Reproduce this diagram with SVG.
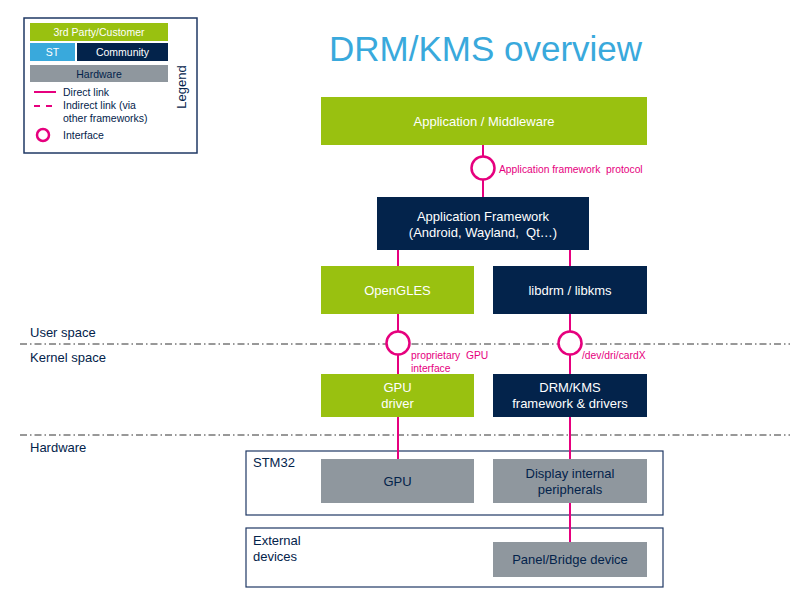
<svg xmlns="http://www.w3.org/2000/svg" width="800" height="600" viewBox="0 0 800 600">
<style>
text{font-family:"Liberation Sans",Arial,sans-serif}
.g{fill:#99C110}
.n{fill:#03234B}
.h{fill:#8F979E}
.b{fill:#39A9DC}
.wt{fill:#fff;font-size:13px;text-anchor:middle;white-space:pre}
.nt{fill:#03234B;font-size:13px;text-anchor:middle}
.lt{fill:#03234B;font-size:13px}
.mt{fill:#E6007E;font-size:10.3px;white-space:pre}
.ll{fill:#fff;font-size:10.5px;text-anchor:middle}
.lh{fill:#03234B;font-size:10.5px;text-anchor:middle}
.lg{fill:#03234B;font-size:10.5px}
.c{stroke:#E6007E;stroke-width:2;fill:none}
.ci{stroke:#E6007E;stroke-width:2.5;fill:#fff}
.dd{stroke:#333;stroke-width:1;stroke-dasharray:7 3 1.5 3;fill:none}
.fr{fill:#fff;stroke:#1F3864;stroke-width:1.2}
</style>
<rect width="800" height="600" fill="#fff"/>

<g id="legend">
<rect x="24" y="18" width="173" height="135" fill="#fff" stroke="#1F3864" stroke-width="1.5"/>
<rect class="g" x="30" y="23" width="138" height="18"/>
<text class="ll" x="99" y="36">3rd Party/Customer</text>
<rect class="b" x="30" y="43" width="45" height="18"/>
<text class="ll" x="52.5" y="56">ST</text>
<rect class="n" x="77" y="43" width="91" height="18"/>
<text class="ll" x="122.5" y="56">Community</text>
<rect class="h" x="30" y="65" width="138" height="17"/>
<text class="lh" x="99" y="77.5">Hardware</text>
<line x1="34" y1="92" x2="56" y2="92" stroke="#E6007E" stroke-width="2"/>
<text class="lg" x="63" y="96">Direct link</text>
<line x1="34" y1="106" x2="56" y2="106" stroke="#E6007E" stroke-width="2" stroke-dasharray="6 6"/>
<text class="lg" x="63" y="109">Indirect link (via</text>
<text class="lg" x="63" y="122">other frameworks)</text>
<circle cx="43" cy="135" r="6" fill="#fff" stroke="#E6007E" stroke-width="2.5"/>
<text class="lg" x="63" y="139">Interface</text>
<text x="186" y="87" transform="rotate(-90 186 87)" style="fill:#03234B;font-size:13px;text-anchor:middle">Legend</text>
</g>

<text x="329" y="61" style="fill:#39A9DC;font-size:35px">DRM/KMS overview</text>

<g id="space-lines">
<line class="dd" x1="20" y1="344" x2="790" y2="344"/>
<line class="dd" x1="20" y1="435" x2="790" y2="435"/>
<text class="lt" x="30" y="337">User space</text>
<text class="lt" x="30" y="362">Kernel space</text>
<text class="lt" x="30" y="452">Hardware</text>
</g>

<g id="stm32">
<rect class="fr" x="246" y="451" width="417" height="64"/>
<text class="lt" x="253" y="467">STM32</text>
</g>
<g id="external">
<rect class="fr" x="246" y="528" width="417" height="59"/>
<text class="lt" x="253" y="545">External</text>
<text class="lt" x="253" y="561">devices</text>
</g>

<g id="connectors">
<line class="c" x1="483" y1="145" x2="483" y2="197"/>
<line class="c" x1="398" y1="250" x2="398" y2="459"/>
<line class="c" x1="570" y1="250" x2="570" y2="542"/>
</g>

<g id="app">
<rect class="g" x="321" y="97" width="326" height="48"/>
<text class="wt" x="484" y="126">Application / Middleware</text>
</g>
<g id="appfw">
<rect class="n" x="377" y="197" width="212" height="53"/>
<text class="wt" x="483" y="221">Application Framework</text>
<text class="wt" x="483" y="237">(Android, Wayland,  Qt…)</text>
</g>
<g id="opengles">
<rect class="g" x="321" y="266" width="153" height="48"/>
<text class="wt" x="397.5" y="294.5">OpenGLES</text>
</g>
<g id="libdrm">
<rect class="n" x="493" y="266" width="154" height="48"/>
<text class="wt" x="570" y="294.5">libdrm / libkms</text>
</g>
<g id="gpudriver">
<rect class="g" x="321" y="374" width="153" height="43"/>
<text class="wt" x="397.5" y="392">GPU</text>
<text class="wt" x="397.5" y="408">driver</text>
</g>
<g id="drmkms">
<rect class="n" x="493" y="374" width="154" height="43"/>
<text class="wt" x="570" y="392">DRM/KMS</text>
<text class="wt" x="570" y="408">framework &amp; drivers</text>
</g>
<g id="gpu">
<rect class="h" x="321" y="459" width="153" height="44"/>
<text class="nt" x="397.5" y="486">GPU</text>
</g>
<g id="display">
<rect class="h" x="493" y="459" width="154" height="44"/>
<text class="nt" x="570" y="478">Display internal</text>
<text class="nt" x="570" y="494">peripherals</text>
</g>
<g id="panel">
<rect class="h" x="493" y="542" width="154" height="35"/>
<text class="nt" x="570" y="564">Panel/Bridge device</text>
</g>

<g id="interfaces">
<circle class="ci" cx="483" cy="168" r="11.5"/>
<text class="mt" x="499" y="173">Application framework  protocol</text>
<circle class="ci" cx="398" cy="343" r="11.5"/>
<text class="mt" x="411" y="359">proprietary  GPU</text>
<text class="mt" x="411" y="372">interface</text>
<circle class="ci" cx="570" cy="343" r="11.5"/>
<text class="mt" x="582" y="359">/dev/dri/cardX</text>
</g>
</svg>
